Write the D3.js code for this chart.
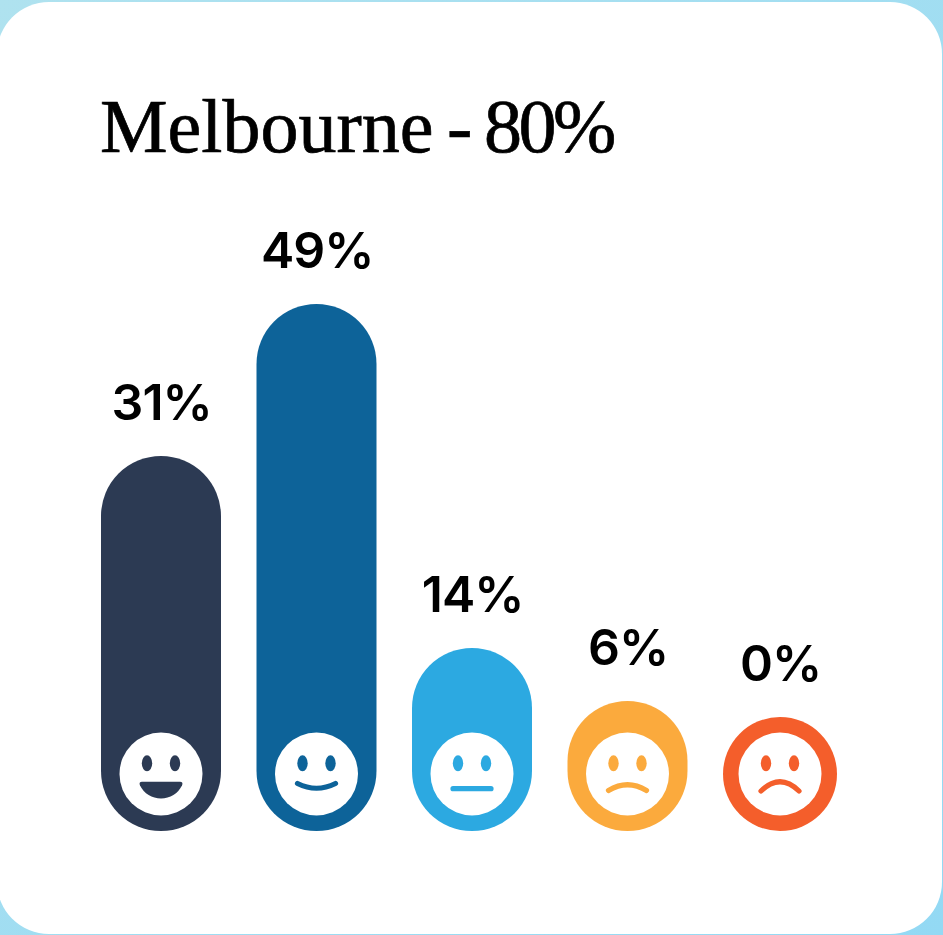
<!DOCTYPE html>
<html><head><meta charset="utf-8">
<script src="https://cdn.jsdelivr.net/npm/d3@7"></script>
<style>html,body{margin:0;padding:0;background:#a9e1f1;overflow:hidden}svg{display:block}</style>
</head><body><svg id="c" width="943" height="935"></svg>
<script>
const titleParts = ["Melbourne","-","80%"];
const categories = ["Very satisfied","Satisfied","Neutral","Dissatisfied","Very dissatisfied"];
const values = [31,49,14,6,0];
const colors = ["#2c3a53","#0d6399","#2ca9e1","#fbaa3d","#f45e2b"];
const mouths = ["grin","smile","flat","frown","frownDeep"];

const svg = d3.select("#c");
const bottom = 831;
const x = d3.scaleBand().domain(categories).range([101,843]).paddingInner(0.2283).paddingOuter(0);
// The reference bars are not proportional to their values, so the height scale is piecewise.
const h = d3.scaleLinear().domain([0,6,14,31,49]).range([114,130,183,375,527]);

svg.append("defs").append("linearGradient").attr("id","bgG")
  .attr("x1",0).attr("y1",0).attr("x2",1).attr("y2",1)
  .selectAll("stop").data([["0","#afe2ef"],["1","#93d9f4"]]).join("stop")
  .attr("offset",d=>d[0]).attr("stop-color",d=>d[1]);
svg.append("rect").attr("width",943).attr("height",935).attr("fill","url(#bgG)");
svg.append("rect").attr("x",-3).attr("y",2).attr("width",945).attr("height",932).attr("rx",52).attr("fill","#fff");

const title = svg.append("text").attr("y",152)
  .attr("font-family","'Liberation Serif',serif").attr("font-size",76).attr("fill","#000")
  .attr("stroke","#000").attr("stroke-width",0.7);
const titleX = [100,447,484], titleLS = [0,0,-3.5];
title.selectAll("tspan").data(titleParts).join("tspan")
  .attr("x",(d,i)=>titleX[i]).attr("letter-spacing",(d,i)=>titleLS[i]).text(d=>d);

const g = svg.selectAll("g.bar").data(categories.map((c,i)=>({c,v:values[i],col:colors[i],m:mouths[i]}))).join("g").attr("class","bar");
const bw = d => d.v===0 ? h(0) : x.bandwidth();
const cx = d => x(d.c)+bw(d)/2;
g.append("rect")
  .attr("x",d=>x(d.c)).attr("width",bw)
  .attr("y",d=>bottom-h(d.v)).attr("height",d=>h(d.v))
  .attr("rx",d=>bw(d)/2).attr("fill",d=>d.col);
g.append("text").text(d=>d.v+"%")
  .attr("x",d=>cx(d)+0.7).attr("y",d=>bottom-h(d.v)-36.3)
  .attr("text-anchor","middle").attr("font-family","Inter,sans-serif").attr("font-weight",600)
  .attr("font-size",50).attr("letter-spacing",-1).attr("fill","#000");

const face = g.append("g").attr("transform",d=>`translate(${cx(d)},774)`);
face.append("circle").attr("r",41.5).attr("fill","#fff");
[-14,14].forEach(dx=>face.append("ellipse").attr("cx",dx).attr("cy",-10.7).attr("rx",5.2).attr("ry",8).attr("fill",d=>d.col));
const paths = {
  grin:"M-19,7.8 L19,7.8 Q22.5,8 21,11.5 C17,19.5 9,24.5 0,24.5 C-9,24.5 -17,19.5 -21,11.5 Q-22.5,8 -19,7.8 Z",
  smile:"M-19,9.5 Q0,19 19,9.5",
  flat:"M-19,14.7 L19,14.7",
  frown:"M-19,16.5 Q0,5 19,16.5",
  frownDeep:"M-19,17 Q0,-1.5 19,17"
};
face.append("path").attr("d",d=>paths[d.m])
  .attr("fill",d=>d.m==="grin"?d.col:"none")
  .attr("stroke",d=>d.m==="grin"?"none":d.col)
  .attr("stroke-width",5.2).attr("stroke-linecap","round");
</script></body></html>
